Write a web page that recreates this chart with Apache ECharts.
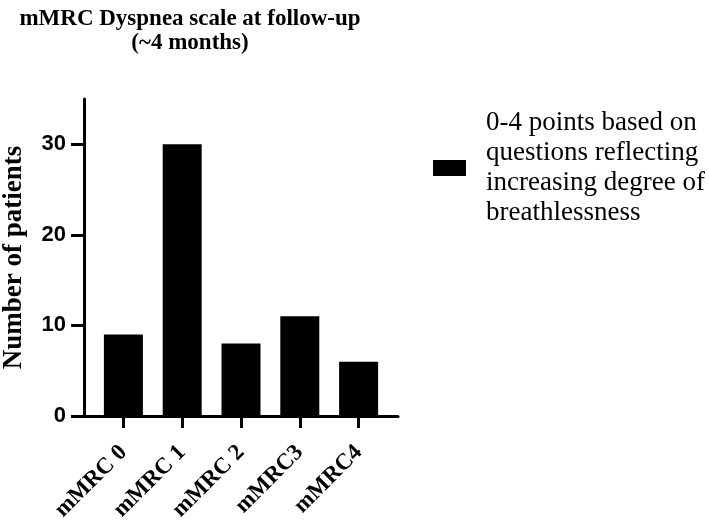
<!DOCTYPE html>
<html>
<head>
<meta charset="utf-8">
<script src="https://cdn.jsdelivr.net/npm/echarts@6/dist/echarts.min.js"></script>
<style>
html,body{margin:0;padding:0;background:#fff;}
#chart{width:709px;height:524px;}
</style>
</head>
<body>
<div id="chart"></div>
<script>
const categories = ['mMRC 0', 'mMRC 1', 'mMRC 2', 'mMRC3', 'mMRC4'];
const patients = [9, 30, 8, 11, 6];
const yTicks = [0, 10, 20, 30];
const titleText = 'mMRC Dyspnea scale at follow-up\n(~4 months)';
const yName = 'Number of patients';
const seriesName = '0-4 points based on\nquestions reflecting\nincreasing degree of\nbreathlessness';

const serif = '"Liberation Serif", "Times New Roman", serif';
const sans = '"Liberation Sans", Arial, sans-serif';
const catIdx = categories.map((c, i) => i);

const chart = echarts.init(document.getElementById('chart'), null, {renderer: 'canvas'});
chart.setOption({
  animation: false,
  backgroundColor: '#fff',
  title: {
    text: titleText,
    left: 190,
    top: 7,
    textAlign: 'center',
    padding: 0,
    textStyle: {fontFamily: serif, fontWeight: 'bold', fontSize: 23, lineHeight: 24, color: '#000'}
  },
  legend: {
    left: 433,
    top: 108,
    padding: 0,
    itemWidth: 33,
    itemHeight: 16,
    icon: 'rect',
    selectedMode: false,
    data: [seriesName],
    textStyle: {fontFamily: serif, fontSize: 27, lineHeight: 30, color: '#000', padding: [0, 0, 0, 15]}
  },
  grid: {left: 81, right: 311, top: 99, bottom: 108, containLabel: false},
  xAxis: {
    type: 'value',
    min: -0.67,
    max: 4.67,
    splitLine: {show: false},
    axisLine: {show: true, onZero: false, lineStyle: {color: '#000', width: 3}},
    axisTick: {show: true, length: 12, lineStyle: {color: '#000', width: 3}, customValues: catIdx},
    axisLabel: {
      customValues: catIdx,
      formatter: v => categories[Math.round(v)] || '',
      rotate: 45,
      margin: 33,
      fontFamily: serif, fontWeight: 'bold', fontSize: 23, color: '#000'
    }
  },
  yAxis: {
    type: 'value',
    min: 0,
    max: 35,
    name: yName,
    nameLocation: 'middle',
    nameRotate: 90,
    nameGap: 56,
    nameTextStyle: {fontFamily: serif, fontWeight: 'bold', fontSize: 27, color: '#000'},
    splitLine: {show: false},
    axisLine: {show: true, onZero: false, lineStyle: {color: '#000', width: 3}},
    axisTick: {show: true, length: 13, lineStyle: {color: '#000', width: 3}, customValues: yTicks},
    axisLabel: {customValues: yTicks, margin: 18, fontFamily: sans, fontWeight: 'bold', fontSize: 22, color: '#000'}
  },
  series: [{
    name: seriesName,
    type: 'bar',
    barWidth: 39,
    itemStyle: {color: '#000'},
    data: patients.map((v, i) => [i, v])
  }]
});
</script>
</body>
</html>
